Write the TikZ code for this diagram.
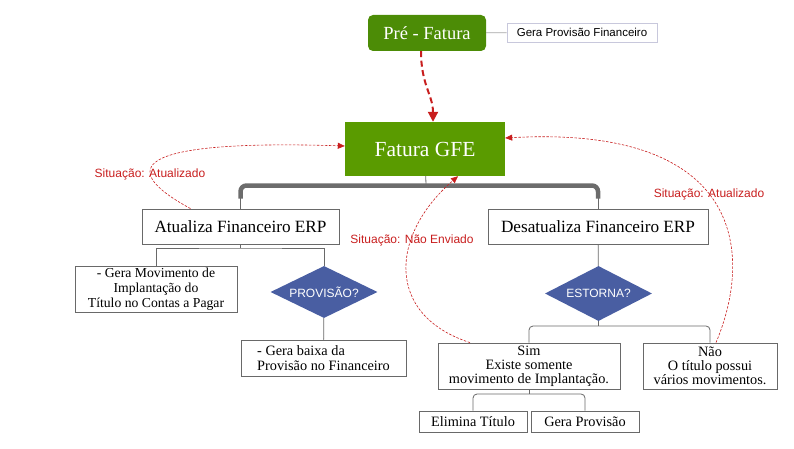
\documentclass[tikz,border=0pt]{standalone}
\usepackage{fontspec}
\setmainfont{Liberation Serif}
\newfontfamily\labelfont{Liberation Sans}
\usetikzlibrary{arrows.meta,shapes.geometric}

\definecolor{darkgreen}{RGB}{76,140,6}
\definecolor{gfegreen}{RGB}{90,155,0}
\definecolor{decblue}{RGB}{73,94,162}
\definecolor{flowred}{RGB}{200,30,30}
\definecolor{boxgray}{RGB}{105,105,105}
\definecolor{notegray}{RGB}{200,200,220}
\definecolor{bargray}{RGB}{108,108,108}

\begin{document}
\begin{tikzpicture}[
    x=1pt, y=-1pt,
    box/.style={rectangle, draw=boxgray, line width=0.8pt, fill=white, align=center, inner sep=0pt, font=\fontsize{14.3}{14}\selectfont},
    stage/.style={rectangle, text=white, inner sep=0pt},
    decision/.style={diamond, aspect=2.05, fill=decblue, text=white, inner sep=0pt, font=\labelfont\fontsize{12}{12}\selectfont},
    link/.style={draw=boxgray, line width=0.8pt},
    bar/.style={draw=bargray, line width=4.5pt, rounded corners=6pt},
    flow/.style={draw=flowred, dash pattern=on 2.5pt off 1.5pt, line width=0.6pt, -{Triangle[length=7pt,width=6pt]}},
    status/.style={text=flowred, font=\labelfont\fontsize{12}{12}\selectfont}
]
\useasboundingbox (0,0) rectangle (794,449);

% top
\node[stage, fill=darkgreen, rounded corners=5pt, minimum width=118, minimum height=36, font=\fontsize{18.5}{18}\selectfont] (pre) at (427,33) {Pré - Fatura};
\node[box, draw=notegray, font=\labelfont\fontsize{11.5}{12}\selectfont, minimum width=150, minimum height=19] (gera) at (582,32.5) {Gera Provisão Financeiro};
\node[stage, fill=gfegreen, minimum width=160, minimum height=54, font=\fontsize{21.5}{21}\selectfont] (gfe) at (425,149) {Fatura GFE};

% second level
\node[box, font=\fontsize{17.2}{17}\selectfont, minimum width=197, minimum height=35] (atu) at (240.5,226.5) {Atualiza Financeiro ERP};
\node[box, font=\fontsize{17.2}{17}\selectfont, minimum width=220, minimum height=35] (desat) at (598,226.5) {Desatualiza Financeiro ERP};

% left branch
\node[box, minimum width=162, minimum height=46, font=\fontsize{13.7}{15}\selectfont] (mov) at (156,289) {- Gera Movimento de\\Implantação do\\Título no Contas a Pagar};
\node[decision, minimum width=107, minimum height=52] (prov) at (324,292) {PROVISÃO?};
\node[box, align=left, minimum width=165, minimum height=36, font=\fontsize{14.3}{15}\selectfont] (baixa) at (323.5,358) {- Gera baixa da\\Provisão no Financeiro};

% right branch
\node[decision, minimum width=107, minimum height=55] (est) at (598.5,293.5) {ESTORNA?};
\node[box, minimum width=182, minimum height=46] (sim) at (529,366) {Sim\\Existe somente\\movimento de Implantação.};
\node[box, minimum width=134, minimum height=46] (nao) at (710,366) {Não\\O título possui\\vários movimentos.};
\node[box, minimum width=108, minimum height=21] (elim) at (473,421.5) {Elimina Título};
\node[box, minimum width=108, minimum height=21] (gprov) at (585,421.5) {Gera Provisão};

% junctions
\coordinate (hub) at (426,185.5);
\coordinate (atuj) at (240.5,248);
\coordinate (estj) at (598.5,326);
\coordinate (simj) at (529,394);

% connectors
\draw[link, draw=gray!70] (pre) -- (gera);
\draw[link] (gfe) -- (hub);
\draw[link] (atu.north) -- ++(0,-14);
\draw[link] (desat.north) -- ++(0,-14);
\draw[bar] ([yshift=10pt]atu.north) |- (hub) -| ([yshift=10pt]desat.north);
\draw[link] (atu) -- (atuj);
\draw[link] (mov.north) |- (atuj) -| (prov.north);
\draw[link] (prov) -- (baixa);
\draw[link] (desat) -- (est);
\draw[link] (est) -- (estj);
\draw[link, rounded corners=4pt] (sim.north) |- (estj) -| (nao.north);
\draw[link] (sim) -- (simj);
\draw[link, rounded corners=4pt] (elim.north) |- (simj) -| (gprov.north);

% status flows
\draw[draw=flowred, line width=2pt, dash pattern=on 6pt off 3.5pt, -{Triangle[length=10pt,width=10pt]}]
    ([xshift=-6pt]pre.south) .. controls (421,85) and (433,95) .. ([xshift=8pt]gfe.north);
\draw[flow] ([xshift=-50pt]atu.north) .. controls (105,162) and (155,140) .. ([yshift=3pt]gfe.west);
\draw[flow] ([xshift=-59pt]sim.north) .. controls (385,315) and (390,235) .. ([xshift=33pt]gfe.south);
\draw[flow] ([xshift=6pt]nao.north) .. controls (755,250) and (740,125) .. ([yshift=11pt]gfe.east);

\node[status] (s1) at (150,174) {Situação: Atualizado};
\node[status] (s2) at (412,240) {Situação: Não Enviado};
\node[status] (s3) at (709,194) {Situação: Atualizado};
\end{tikzpicture}
\end{document}
